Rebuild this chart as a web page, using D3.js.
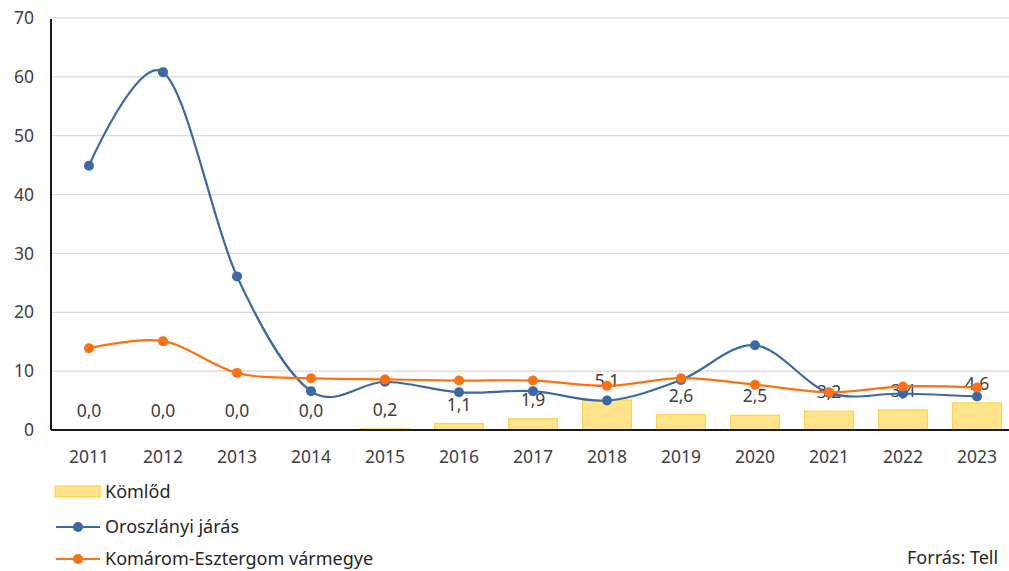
<!DOCTYPE html>
<html><head><meta charset="utf-8">
<script src="https://cdn.jsdelivr.net/npm/d3@7"></script>
<style>
html,body{margin:0;padding:0;background:#fff;overflow:hidden}
svg{display:block;font-family:"Noto Sans",sans-serif}
</style></head>
<body>
<svg id="c" width="1009" height="571"></svg>
<script>
const years = ["2011","2012","2013","2014","2015","2016","2017","2018","2019","2020","2021","2022","2023"];
const komlod = [0.0,0.0,0.0,0.0,0.2,1.1,1.9,5.1,2.6,2.5,3.2,3.4,4.6];
const oroszlany = [44.9,60.8,26.1,6.6,8.2,6.4,6.6,5.0,8.5,14.4,6.3,6.2,5.7];
const megye = [13.9,15.1,9.7,8.8,8.6,8.4,8.4,7.5,8.8,7.7,6.4,7.4,7.2];
const yTicks = [0,10,20,30,40,50,60,70];
const seriesNames = ["Kömlőd","Oroszlányi járás","Komárom-Esztergom vármegye"];
const source = "Forrás: Tell";

const blue = "#3C69A5", orange = "#FF7010", barFill = "#FFE48C", barStroke = "#FFD447";
const svg = d3.select("#c");
const mLeft = 52, mRight = 1014, mTop = 18, mBottom = 430;
const fs = 17.5, lfs = 18;

const x = d3.scaleBand().domain(years).range([mLeft, mRight]).paddingInner(0.34).paddingOuter(0.17);
const y = d3.scaleLinear().domain([0, 70]).range([mBottom, mTop]);
const cx = d => x(d) + x.bandwidth()/2;

// gridlines
svg.append("g").selectAll("line").data(yTicks.filter(t => t > 0)).join("line")
  .attr("x1", mLeft).attr("x2", 1009).attr("y1", d => y(d)).attr("y2", d => y(d))
  .attr("stroke", "#d9d9d9").attr("stroke-width", 1.2);

// y axis labels
const yAxis = d3.axisLeft(y).tickValues(yTicks).tickSize(0).tickPadding(18).tickFormat(d3.format("d"));
const ga = svg.append("g").attr("transform", `translate(${mLeft},0)`).call(yAxis);
ga.select(".domain").remove();
ga.selectAll("text").attr("font-size", fs).attr("fill", "#404040").attr("font-family", "Noto Sans");

// bars
svg.append("g").selectAll("rect").data(komlod).join("rect")
  .attr("x", (d,i) => x(years[i])).attr("width", x.bandwidth())
  .attr("y", d => y(d)).attr("height", d => mBottom - y(d))
  .attr("fill", barFill).attr("stroke", barStroke).attr("stroke-width", 1.2);

// bar labels
svg.append("g").selectAll("text").data(komlod).join("text")
  .attr("x", (d,i) => cx(years[i])).attr("y", d => y(d) - 20)
  .attr("text-anchor", "middle").attr("dominant-baseline", "central")
  .attr("font-size", fs).attr("fill", "#404040")
  .text(d => d3.format(".1f")(d).replace(".", ","));

// axes lines
svg.append("line").attr("x1", mLeft-1).attr("x2", 1009).attr("y1", mBottom).attr("y2", mBottom)
  .attr("stroke", "#1a1a1a").attr("stroke-width", 2);
svg.append("line").attr("x1", mLeft-1).attr("x2", mLeft-1).attr("y1", mTop+1).attr("y2", mBottom)
  .attr("stroke", "#1a1a1a").attr("stroke-width", 2);

// x axis labels
const xAxis = d3.axisBottom(x).tickSize(0).tickPadding(21);
const gx = svg.append("g").attr("transform", `translate(0,${mBottom})`).call(xAxis);
gx.select(".domain").remove();
gx.selectAll("text").attr("font-size", fs).attr("fill", "#404040").attr("font-family", "Noto Sans");

// lines
const line = d3.line().x((d,i) => cx(years[i])).y(d => y(d)).curve(d3.curveCatmullRom.alpha(0));
function drawSeries(data, col) {
  const g = svg.append("g");
  g.append("path").datum(data).attr("d", line).attr("fill", "none").attr("stroke", col).attr("stroke-width", 2.2);
  g.selectAll("circle").data(data).join("circle")
    .attr("cx", (d,i) => cx(years[i])).attr("cy", d => y(d)).attr("r", 5).attr("fill", col);
}
drawSeries(oroszlany, blue);
drawSeries(megye, orange);

// legend
const lg = svg.append("g").attr("font-size", lfs).attr("fill", "#262626");
lg.append("rect").attr("x", 55).attr("y", 486).attr("width", 45).attr("height", 11)
  .attr("fill", barFill).attr("stroke", barStroke).attr("stroke-width", 1.2);
lg.append("text").attr("x", 105).attr("y", 491).attr("dominant-baseline", "central").text(seriesNames[0]);
[[blue, 527, seriesNames[1]], [orange, 559, seriesNames[2]]].forEach(([c, yy, t]) => {
  lg.append("line").attr("x1", 56).attr("x2", 100).attr("y1", yy).attr("y2", yy).attr("stroke", c).attr("stroke-width", 2.2);
  lg.append("circle").attr("cx", 78).attr("cy", yy).attr("r", 5).attr("fill", c);
  lg.append("text").attr("x", 105).attr("y", yy - 1).attr("dominant-baseline", "central").text(t);
});
svg.append("text").attr("x", 907).attr("y", 557).attr("dominant-baseline", "central")
  .attr("font-size", lfs).attr("fill", "#262626").text(source);
</script>
</body></html>
